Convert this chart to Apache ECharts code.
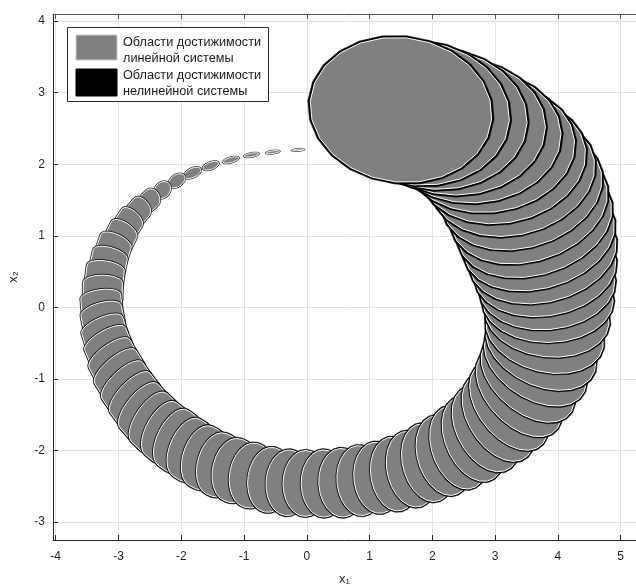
<!DOCTYPE html>
<html><head><meta charset="utf-8">
<script src="https://cdn.jsdelivr.net/npm/echarts@6/dist/echarts.min.js"></script>
<style>html,body{margin:0;padding:0;background:#fff}#c{width:636px;height:587px}</style>
</head><body><div id="c"></div>
<script>
// tick labels
const xTicks = [-4,-3,-2,-1,0,1,2,3,4,5];
const yTicks = [-3,-2,-1,0,1,2,3,4];
const legendText = [['Области достижимости','линейной системы'],['Области достижимости','нелинейной системы']];
// reachable sets (tail -> head)
// centre
const setCx = [-0.14,-0.54,-0.88,-1.21,-1.53,-1.82,-2.07,-2.30,-2.50,-2.68,
  -2.84,-2.96,-3.08,-3.16,-3.22,-3.25,-3.27,-3.25,-3.22,-3.16,
  -3.08,-2.98,-2.87,-2.74,-2.60,-2.44,-2.26,-2.07,-1.86,-1.64,
  -1.40,-1.15,-0.88,-0.59,-0.30,-0.02,0.27,0.56,0.85,1.13,
  1.40,1.67,1.93,2.18,2.42,2.65,2.85,3.05,3.22,3.38,
  3.52,3.64,3.73,3.79,3.83,
  3.84,3.83,3.80,3.76,3.70,3.63,3.54,3.43,3.29,3.12,2.91,2.66,2.38,2.07,1.78,1.50];
const setCy = [2.20,2.17,2.13,2.06,1.98,1.88,1.77,1.64,1.50,1.35,
  1.18,1.00,0.82,0.62,0.43,0.23,0.03,-0.16,-0.36,-0.55,
  -0.75,-0.93,-1.11,-1.28,-1.45,-1.60,-1.74,-1.86,-1.99,-2.10,
  -2.20,-2.28,-2.35,-2.41,-2.45,-2.46,-2.46,-2.45,-2.42,-2.38,
  -2.33,-2.26,-2.17,-2.07,-1.96,-1.84,-1.70,-1.54,-1.38,-1.19,
  -1.00,-0.79,-0.58,-0.36,-0.13,
  0.09,0.30,0.52,0.74,0.96,1.18,1.40,1.62,1.83,2.03,2.21,2.38,2.52,2.63,2.71,2.76];
// depth of the rounded front/back along the set's axis
const setRa = [0.10,0.11,0.12,0.13,0.13,0.14,0.14,0.14,0.12,0.11,
  0.10,0.10,0.10,0.10,0.10,0.10,0.10,0.11,0.11,0.12,
  0.13,0.14,0.15,0.16,0.18,0.20,0.22,0.24,0.26,0.28,
  0.30,0.32,0.33,0.34,0.35,0.36,0.36,0.37,0.37,0.38,
  0.38,0.39,0.40,0.41,0.42,0.43,0.44,0.45,0.46,0.47,
  0.48,0.50,0.52,0.54,0.56,
  0.58,0.61,0.64,0.67,0.70,0.73,0.76,0.79,0.82,0.85,0.88,0.92,0.95,0.98,1.00,1.01];
// half length of the straight sides along the set's axis
const setRf = [0,0,0,0,0,0,0,0,0.04,0.07,
  0.09,0.10,0.11,0.12,0.12,0.12,0.12,0.12,0.12,0.12,
  0.12,0.12,0.11,0.11,0.10,0.09,0.08,0.07,0.06,0.05,
  0.04,0.03,0.02,0.01,0,0,0,0,0,0,
  0,0,0,0,0,0,0,0,0,0,
  0,0,0,0,0,
  0,0,0,0,0,0,0,0,0,0,0,0,0,0,0,0];
// half width across the set's axis
const setRb = [0.012,0.018,0.025,0.035,0.05,0.065,0.085,0.11,0.14,0.17,
  0.20,0.23,0.26,0.28,0.30,0.31,0.32,0.33,0.345,0.36,
  0.38,0.40,0.41,0.42,0.43,0.44,0.44,0.45,0.45,0.45,
  0.45,0.45,0.455,0.455,0.46,0.46,0.47,0.48,0.49,0.50,
  0.52,0.54,0.56,0.58,0.61,0.64,0.67,0.71,0.75,0.79,
  0.83,0.87,0.91,0.95,0.99,
  1.04,1.08,1.13,1.18,1.22,1.25,1.27,1.29,1.31,1.33,1.36,1.39,1.42,1.44,1.45,1.45];
// axis angle (deg)
const setRot = [4,6,9,13,17,21,27,32,38,46,
  54,61,69,76,82,89,96,103,110,116,
  121,125,128,131,135,140,145,148,151,156,
  160,164,167,170,175,179,181,184,187,189,
  192,197,200,203,206,211,217,221,226,231,
  237,244,250,258,264,
  270,274,277,280,282,283,283,282,280,278,275,272,270,268,266,265];
// nonlinear set: slightly enlarged copy of the linear one
const nlScale = 1.02, nlExtra = 0.01;

const data = setCx.map((x,i)=>[x, setCy[i], setRa[i], setRb[i], setRot[i], setRf[i]]);
const HALF = 12;
function renderItem(params, api){
  const x0 = api.value(0), y0 = api.value(1), a = api.value(2), b = api.value(3), r = api.value(4)*Math.PI/180, f = api.value(5);
  const cr = Math.cos(r), sr = Math.sin(r);
  function poly(s, e){
    const pts = [];
    const A = a*s+e, B = b*s+e, F = f*s;
    for (let k=0;k<2;k++){
      const sh = k===0 ? F : -F;
      for (let i=0;i<=HALF;i++){
        const t = -Math.PI/2 + k*Math.PI + Math.PI*i/HALF;
        const u = A*Math.cos(t) + sh, v = B*Math.sin(t);
        pts.push(api.coord([x0 + u*cr - v*sr, y0 + u*sr + v*cr]));
      }
    }
    return pts;
  }
  return {type:'group', children:[
    {type:'polygon', shape:{points:poly(nlScale, nlExtra)}, style:{fill:'#000', stroke:'#000', lineWidth:0.5}},
    {type:'polygon', shape:{points:poly(1,0)}, style:{fill:'#808080', stroke:'#ffffff', lineWidth:1}}
  ]};
}
const FONT = 'Liberation Sans, Arial, sans-serif';
const chart = echarts.init(document.getElementById('c'), null, {renderer:'canvas'});
const lg = [];
lg.push({type:'rect', shape:{x:67.5,y:27.5,width:201,height:74}, style:{fill:'#fff', stroke:'#262626', lineWidth:1}, z:100});
lg.push({type:'rect', shape:{x:76,y:35,width:41,height:25}, style:{fill:'#808080', stroke:'#cccccc', lineWidth:1}, z:101});
lg.push({type:'rect', shape:{x:76,y:69,width:41,height:27}, style:{fill:'#000', stroke:'#000', lineWidth:1}, z:101});
const ty = [[42,58],[75,91]];
legendText.forEach((pair,i)=>pair.forEach((t,j)=>{
  lg.push({type:'text', x:123, y:ty[i][j], style:{text:t, font:'12.7px '+FONT, fill:'#1a1a1a', textVerticalAlign:'middle', verticalAlign:'middle'}, z:102});
}));
chart.setOption({
  animation:false,
  grid:{left:53, right:0, top:14, bottom:47, containLabel:false, outerBoundsMode:'none'},
  xAxis:[{
    type:'value', min:-4.043, max:5.244, minInterval:1, maxInterval:1, position:'bottom',
    name:'x₁', nameLocation:'middle', nameGap:33, nameTextStyle:{fontFamily:FONT, fontSize:13, color:'#262626'},
    axisLine:{show:true, onZero:false, lineStyle:{color:'#262626', width:1}},
    axisTick:{show:true, inside:true, length:5, customValues:xTicks, lineStyle:{color:'#262626'}},
    axisLabel:{customValues:xTicks, color:'#262626', fontSize:12, fontFamily:FONT, margin:11},
    splitLine:{show:true, lineStyle:{color:'#e2e2e2', width:1}}
  },{
    type:'value', min:-4.043, max:5.244, minInterval:1, maxInterval:1, position:'top',
    axisLine:{show:true, onZero:false, lineStyle:{color:'#555', width:1}},
    axisTick:{show:true, inside:true, length:5, customValues:xTicks, lineStyle:{color:'#555'}},
    axisLabel:{show:false}, splitLine:{show:false}
  }],
  yAxis:{
    type:'value', min:-3.25, max:4.1, minInterval:1, maxInterval:1,
    name:'x₂', nameLocation:'middle', nameGap:33, nameRotate:90, nameTextStyle:{fontFamily:FONT, fontSize:13, color:'#262626'},
    axisLine:{show:true, onZero:false, lineStyle:{color:'#262626', width:1}},
    axisTick:{show:true, inside:true, length:5, customValues:yTicks, lineStyle:{color:'#262626'}},
    axisLabel:{customValues:yTicks, color:'#262626', fontSize:12, fontFamily:FONT, margin:8},
    splitLine:{show:true, lineStyle:{color:'#e2e2e2', width:1}}
  },
  series:[{type:'custom', renderItem, data, encode:{x:0,y:1}, clip:true, xAxisIndex:0, yAxisIndex:0}],
  graphic: lg
});
</script></body></html>
